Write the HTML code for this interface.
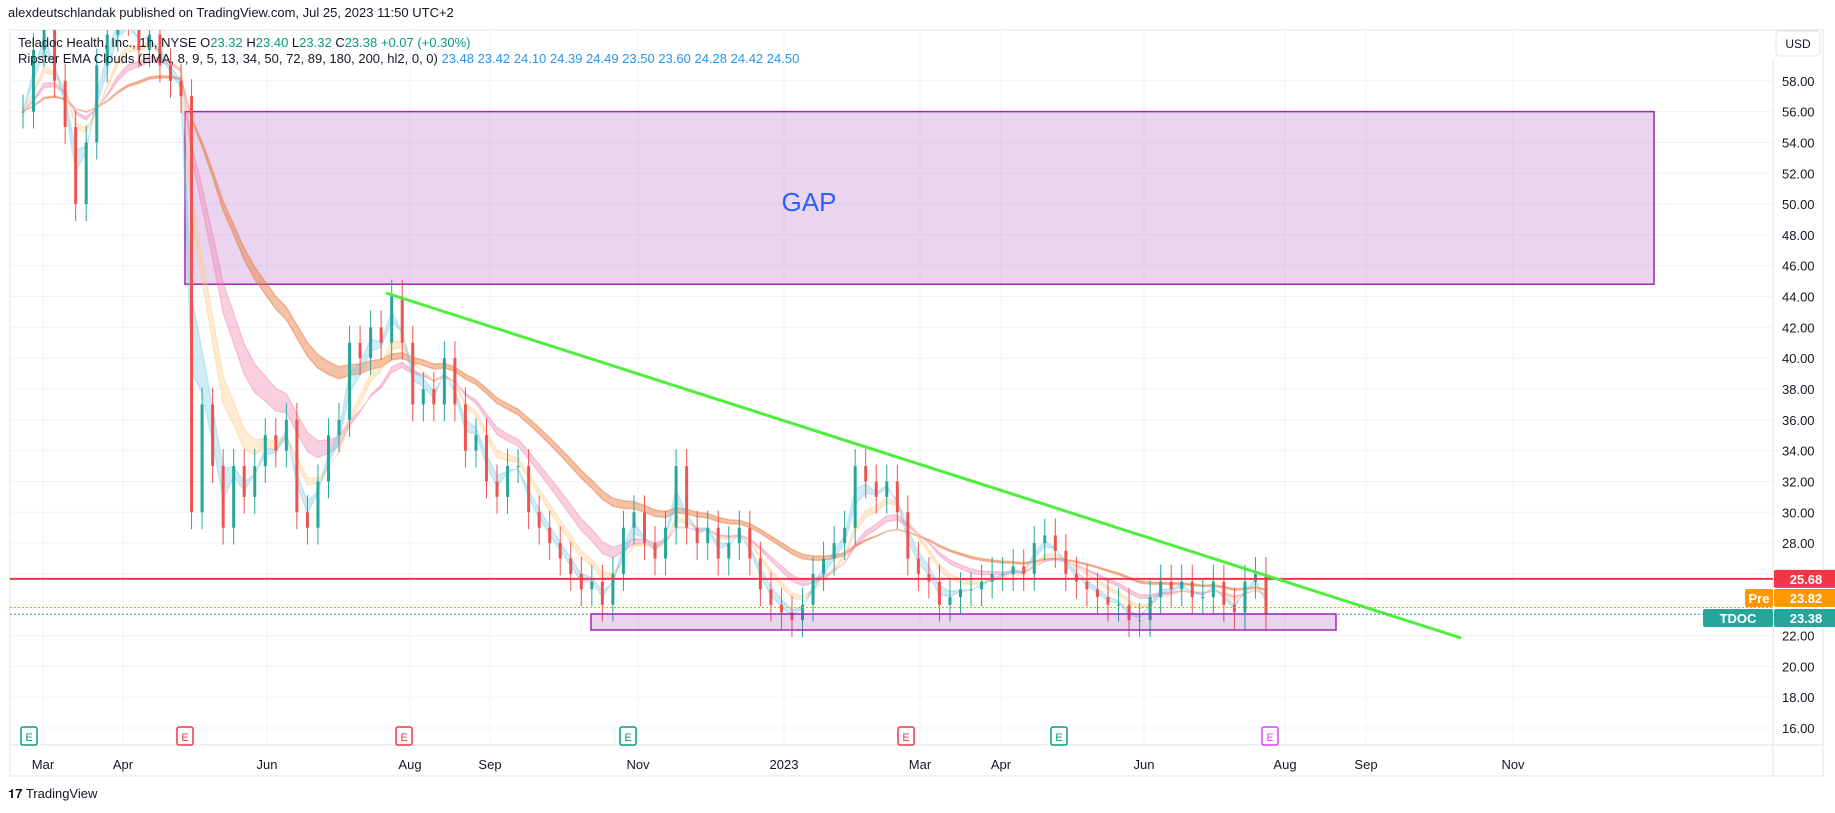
<!DOCTYPE html>
<html><head><meta charset="utf-8"><style>
body{margin:0;background:#fff;width:1835px;height:813px;overflow:hidden;font-family:"Liberation Sans",sans-serif}
svg{position:absolute;left:0;top:0}
</style></head><body>
<svg id="c" width="1835" height="813"></svg>
<script>
const closes=[56,60,62,58,55,50,54,59,61,63,62,60,61,59,58,57,30,37,33,29,33,31,33,35,34,36,30,29,32,35,36,41,40,42,41,44,41,37,38,37,40,37,34,35,32,31,33,33,30,29,28,27,26,25,25.5,24,26,29,30,28,27,29,33,29,28,29,27,28,29,27,25,24,23.5,23,24,26,27,28,29,33,32,31,32,30,27,26,25.5,24,24.5,25,25,25.5,26,26,26.5,26,28,28.5,27.5,26,25.5,25,24.5,24,24,23,23,24.5,25.5,25,25.5,24.5,24.5,25.5,24,23.5,25.5,26,23.4];
const priceTicks=[58,56,54,52,50,48,46,44,42,40,38,36,34,32,30,28,22,20,18,16];
const monthLabels=["Mar","Apr","Jun","Aug","Sep","Nov","2023","Mar","Apr","Jun","Aug","Sep","Nov"];
const monthX=[43,123,267,410,490,638,784,920,1001,1144,1285,1366,1513];
const earnings=[["g",29],["r",185],["r",404],["g",628],["r",906],["g",1059],["m",1270]];
const NS="http://www.w3.org/2000/svg";
const svg=document.getElementById('c');
function el(t,a,p){const e=document.createElementNS(NS,t);for(const k in a)e.setAttribute(k,a[k]);(p||svg).appendChild(e);return e;}
const y=p=>80.8+(58-p)*15.41;
const X0=23,X1=1266;
const x=i=>X0+i*(X1-X0)/(closes.length-1);
let r=el('rect',{x:10,y:30,width:1813,height:746,fill:'none',stroke:'#e0e3eb'});

const gridG=el('g',{});
for(let p=16;p<=58;p+=2)el('line',{x1:10,x2:1773,y1:y(p),y2:y(p),stroke:'#f0f3fa'},gridG);
monthX.forEach(mx=>el('line',{x1:mx,x2:mx,y1:30,y2:745,stroke:'#f0f3fa'},gridG));
el('line',{x1:1773,x2:1773,y1:60,y2:776,stroke:'#e0e3eb'});
el('line',{x1:10,x2:1823,y1:745,y2:745,stroke:'#e0e3eb'});
const clip=el('clipPath',{id:'cl'});el('rect',{x:10,y:30,width:1763,height:715},clip);
const plot=el('g',{'clip-path':'url(#cl)'});
let g=el('rect',{x:185,y:y(56),width:1469,height:y(44.8)-y(56),fill:'rgba(156,39,176,0.2)',stroke:'#9c27b0','stroke-width':1.5},plot);

let gt=el('text',{x:809,y:211,'font-size':26,fill:'#2962ff','text-anchor':'middle'},plot);gt.textContent='GAP';

function ema(n){const k=2/(n+1);let e=closes[0];return closes.map(c=>e=c*k+e*(1-k));}
function band(a,b,col,name){let d='M'+a.map((v,i)=>x(i)+','+y(v)).join('L')+'L'+b.map((v,i)=>x(i)+','+y(v)).reverse().join('L')+'Z';
 const p=el('path',{d:d,fill:col,stroke:col,'stroke-width':1.5},plot);}
band(ema(20),ema(22),'rgba(230,120,60,0.45)','ema-cloud-slow');
band(ema(9),ema(11),'rgba(240,120,170,0.35)','ema-cloud-mid');
band(ema(5),ema(6),'rgba(255,200,130,0.35)','ema-cloud-fast');
band(ema(2),ema(3),'rgba(120,200,230,0.35)','ema-cloud-short');
closes.forEach((c,i)=>{const o=i?closes[i-1]:c;const up=c>=o;const col=up?'#26a69a':'#ef5350';
 const hi=Math.max(o,c)+1.1,lo=Math.min(o,c)-1.1;const cg=el('g',{},plot);
 
 el('line',{x1:x(i),x2:x(i),y1:y(hi),y2:y(lo),stroke:col},cg);
 el('rect',{x:x(i)-1.5,y:y(Math.max(o,c)),width:3,height:Math.max(1,Math.abs(y(o)-y(c))),fill:col},cg);});
let rl=el('line',{x1:10,x2:1773,y1:y(25.68),y2:y(25.68),stroke:'#f23645','stroke-width':2});

let tl=el('line',{x1:386,y1:293,x2:1461,y2:638,stroke:'#4cf03c','stroke-width':3});

el('line',{x1:10,x2:1773,y1:y(23.82),y2:y(23.82),stroke:'#ff9800','stroke-dasharray':'2,2'});
el('line',{x1:10,x2:1773,y1:y(23.38),y2:y(23.38),stroke:'#26a69a','stroke-dasharray':'2,2'});
let sb=el('rect',{x:591,y:614,width:745,height:16,fill:'rgba(156,39,176,0.2)',stroke:'#9c27b0','stroke-width':1.5});

priceTicks.forEach(p=>{const t=el('text',{x:1782,y:y(p)+5,'font-size':13,fill:'#131722'});t.textContent=p.toFixed(2);
 });
function tag(xx,yy,w,col,txt,name){const gg=el('g',{});
 el('rect',{x:xx,y:yy-9,width:w,height:18,rx:2,fill:col},gg);const t=el('text',{x:xx+w/2,y:yy+5,'font-size':13,'font-weight':'bold',fill:'#fff','text-anchor':'middle'},gg);t.textContent=txt;}
tag(1774,y(25.68),64,'#f23645','25.68','last-price-red');
tag(1774,598,64,'#ff9800','23.82','pre-price');
tag(1745,598,28,'#ff9800','Pre','pre-label');
tag(1774,618,64,'#26a69a','23.38','tdoc-price');
tag(1703,618,70,'#26a69a','TDOC','tdoc-label');
let ub=el('rect',{x:1776,y:31,width:44,height:25,rx:4,fill:'#fff',stroke:'#e0e3eb'});

let ut=el('text',{x:1798,y:48,'font-size':12,fill:'#131722','text-anchor':'middle'});ut.textContent='USD';
monthLabels.forEach((m,i)=>{const t=el('text',{x:monthX[i],y:769,'font-size':13,fill:'#131722','text-anchor':'middle'});t.textContent=m;
 });
earnings.forEach(([k,ex])=>{const col=k=='g'?'#089981':k=='r'?'#f23645':'#e040fb';const gg=el('g',{});
 
 el('rect',{x:ex-8,y:727,width:16,height:18,rx:2,fill:'#fff',stroke:col,'stroke-width':1.5},gg);
 const t=el('text',{x:ex,y:741,'font-size':11,fill:col,'text-anchor':'middle'},gg);t.textContent='E';});
function txt(xx,yy,s,col,sz,name){const t=el('text',{x:xx,y:yy,'font-size':sz,fill:col});t.textContent=s;return t;}
txt(8,17,'alexdeutschlandak published on TradingView.com, Jul 25, 2023 11:50 UTC+2','#131722',13,'publish-info');
let l1=el('text',{x:18,y:47,'font-size':13,fill:'#131722'});
l1.innerHTML='Teladoc Health, Inc., 1h, NYSE  O<tspan fill="#089981">23.32</tspan>  H<tspan fill="#089981">23.40</tspan>  L<tspan fill="#089981">23.32</tspan>  C<tspan fill="#089981">23.38  +0.07 (+0.30%)</tspan>';
let l2=el('text',{x:18,y:63,'font-size':13,fill:'#131722'});
l2.innerHTML='Ripster EMA Clouds (EMA, 8, 9, 5, 13, 34, 50, 72, 89, 180, 200, hl2, 0, 0) <tspan fill="#2196f3">23.48  23.42  24.10  24.39  24.49  23.50  23.60  24.28  24.42  24.50</tspan>';
txt(8,798,'𝟏𝟕 TradingView','#131722',13,'tradingview-logo');
</script></body></html>
